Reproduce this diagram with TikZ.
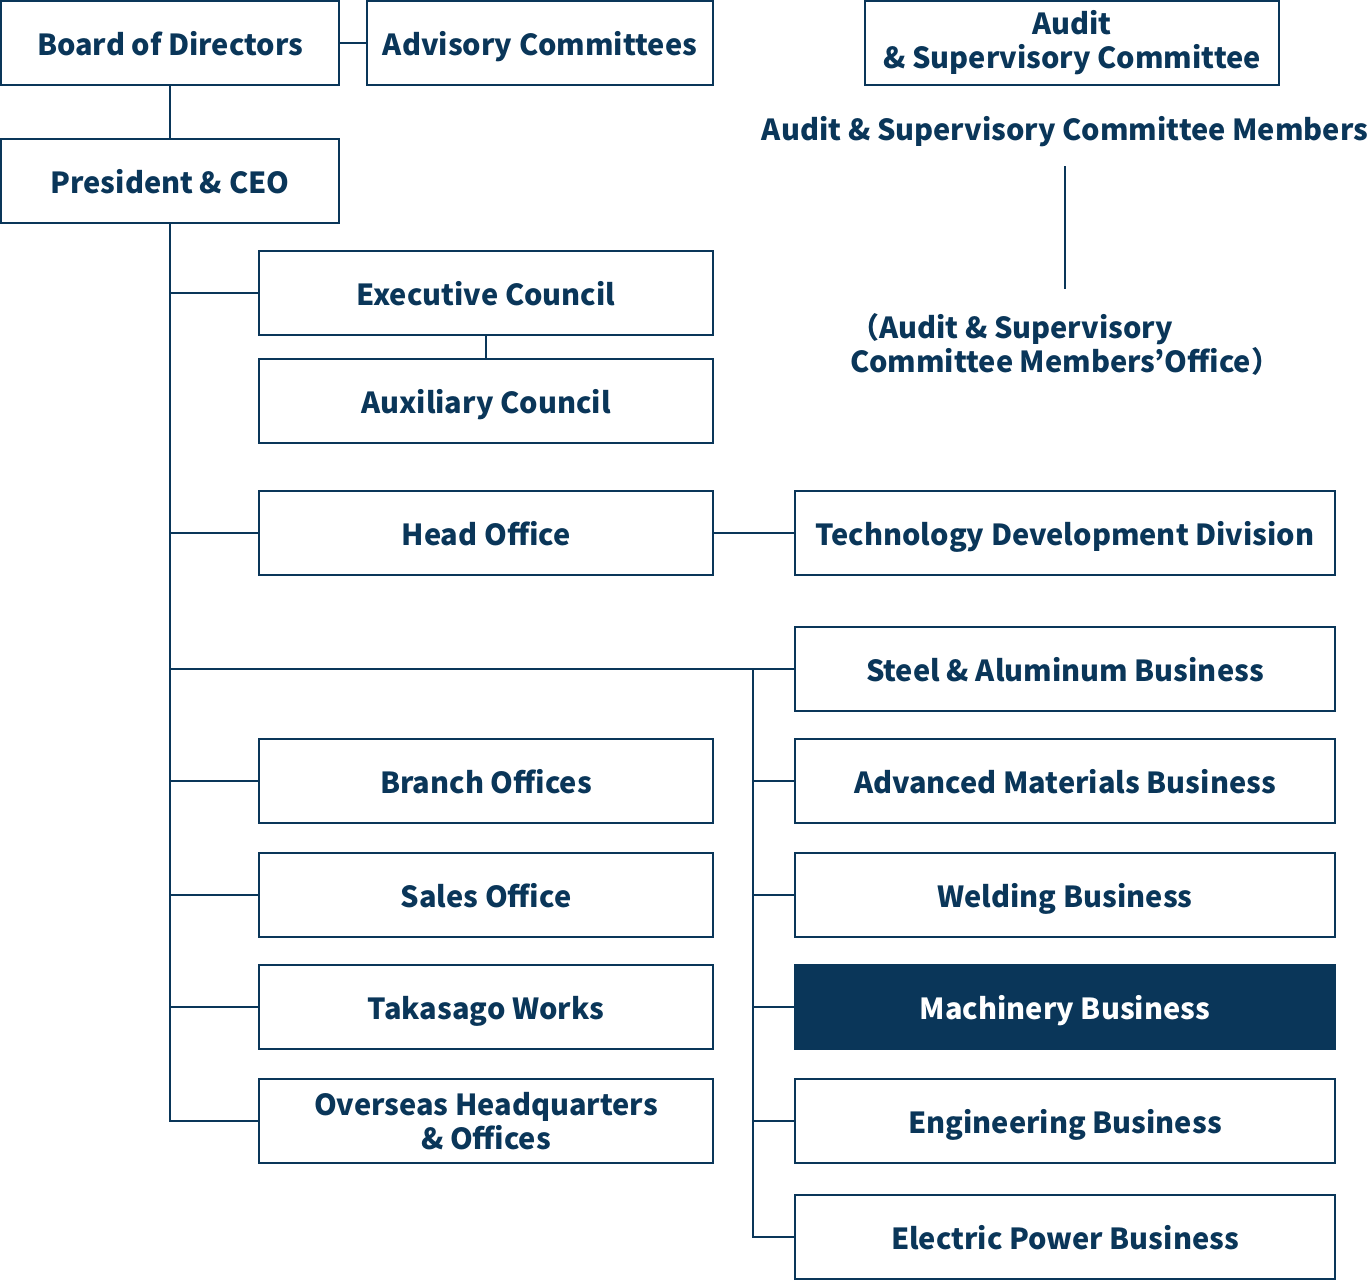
\documentclass[tikz,border=0pt]{standalone}
\usepackage{fontspec}
\setmainfont{Noto Sans CJK JP}
\definecolor{navy}{HTML}{0A3659}

\begin{document}
\begin{tikzpicture}[
  x=0.5pt, y=-0.5pt,
  line width=1pt,
  font=\bfseries\fontsize{14.5}{17}\selectfont,
  unit/.style={draw=navy, text=navy, minimum height=42pt, inner sep=0pt, align=center},
  one/.style={text height=12.5pt, text depth=0pt},
  topbox/.style={unit, one, minimum width=169pt},
  lbox/.style={unit, minimum width=227pt},
  rbox/.style={unit, one, minimum width=270pt},
  hilite/.style={rbox, fill=navy, text=white},
  plain/.style={text=navy, inner sep=0pt, align=left},
]
\useasboundingbox (0,0) rectangle (1372,1280);

\node [topbox] (board) at (170,43) {Board of Directors};
\node [unit, one, minimum width=173pt] (advisory) at (540,43) {Advisory Committees};
\node [unit, minimum width=207pt] (audit) at (1072,43) {\rule{0pt}{1.5pt}Audit\\\& Supervisory Committee};
\node [plain] (members) at (1065,132) {Audit \& Supervisory Committee Members};
\node [plain] (office) at (1065,344) {（Audit \& Supervisory\\Committee Members’Office）};
\node [topbox] (pres) at (170,181) {President \& CEO};

\node [lbox, one] (exec) at (486,293) {Executive Council};
\node [lbox, one] (aux) at (486,401) {Auxiliary Council};
\node [lbox, one] (head) at (486,533) {Head Office};
\node [lbox, one] (branch) at (486,781) {Branch Offices};
\node [lbox, one] (sales) at (486,895) {Sales Office};
\node [lbox, one] (works) at (486,1007) {Takasago Works};
\node [lbox] (overseas) at (486,1121) {Overseas Headquarters\\\& Offices};

\node [rbox] (tech) at (1065,533) {Technology Development Division};
\node [rbox] (steel) at (1065,669) {Steel \& Aluminum Business};
\node [rbox] (adv) at (1065,781) {Advanced Materials Business};
\node [rbox] (weld) at (1065,895) {Welding Business};
\node [hilite] (mach) at (1065,1007) {Machinery Business};
\node [rbox] (eng) at (1065,1121) {Engineering Business};
\node [rbox] (elec) at (1065,1237) {Electric Power Business};

\coordinate (bus) at (753,669);

\begin{scope}[draw=navy]
\draw (board) -- (advisory);
\draw (board) -- (pres);
\draw ([yshift=-9pt]members.south) -- ([yshift=11.5pt]members.south |- office.north);
\draw (exec) -- (aux);
\draw (head) -- (tech);
\draw (pres.south) |- (overseas.west);
\foreach \n in {exec, head, steel, branch, sales, works}
  \draw (pres.south |- \n.west) -- (\n.west);
\foreach \n in {adv, weld, mach, eng}
  \draw (bus |- \n.west) -- (\n.west);
\draw (bus) |- (elec.west);
\end{scope}

\end{tikzpicture}
\end{document}
